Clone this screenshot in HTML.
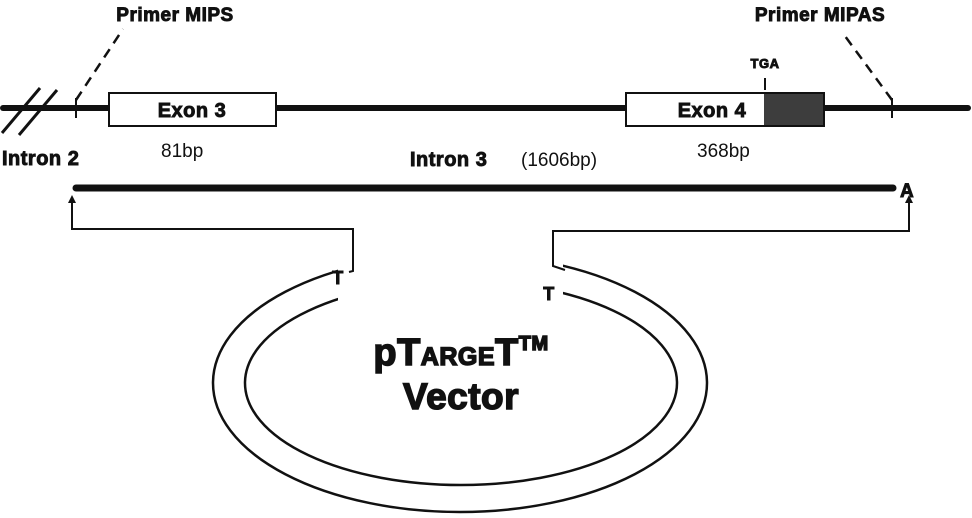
<!DOCTYPE html>
<html><head><style>
html,body{margin:0;padding:0;background:#fff;}
svg{display:block;}
text{font-family:"Liberation Sans",Arial,sans-serif;fill:#111;}
.b{font-weight:bold;stroke:#111;stroke-width:0.9;letter-spacing:0.5px;}
</style></head><body>
<svg width="972" height="518" viewBox="0 0 972 518" xmlns="http://www.w3.org/2000/svg">
<line x1="3" y1="108" x2="968" y2="108" stroke="#111" stroke-width="6" stroke-linecap="round"/>
<line x1="2" y1="133" x2="40" y2="88" stroke="#111" stroke-width="3"/>
<line x1="19" y1="135" x2="57" y2="90" stroke="#111" stroke-width="3"/>
<line x1="76" y1="98" x2="76" y2="118" stroke="#111" stroke-width="2"/>
<line x1="892" y1="98" x2="892" y2="118" stroke="#111" stroke-width="2"/>
<line x1="76" y1="100" x2="123" y2="29" stroke="#111" stroke-width="2.5" stroke-dasharray="10,7"/>
<line x1="892" y1="100" x2="842" y2="32" stroke="#111" stroke-width="2.5" stroke-dasharray="10,7"/>
<text x="175" y="21" font-size="19" text-anchor="middle" class="b">Primer MIPS</text>
<text x="820" y="21" font-size="19" text-anchor="middle" class="b">Primer MIPAS</text>
<rect x="109" y="93" width="167" height="33" fill="#fff" stroke="#111" stroke-width="2"/>
<text x="192" y="117" font-size="20" text-anchor="middle" class="b">Exon 3</text>
<rect x="626" y="93" width="198" height="33" fill="#fff" stroke="#111" stroke-width="2"/>
<rect x="764" y="94" width="59" height="31" fill="#3d3d3d"/>
<text x="712" y="117" font-size="20" text-anchor="middle" class="b">Exon 4</text>
<text x="765" y="68" font-size="13" text-anchor="middle" class="b">TGA</text>
<line x1="765" y1="78" x2="765" y2="90" stroke="#111" stroke-width="2"/>
<text x="2" y="165" font-size="20" class="b">Intron 2</text>
<text x="161" y="157" font-size="19">81bp</text>
<text x="410" y="166" font-size="20" class="b">Intron 3</text>
<text x="521" y="166" font-size="19">(1606bp)</text>
<text x="697" y="157" font-size="19">368bp</text>
<line x1="76" y1="188" x2="893" y2="188" stroke="#111" stroke-width="7" stroke-linecap="round"/>
<text x="900" y="197" font-size="19" class="b">A</text>
<ellipse cx="460" cy="383" rx="247" ry="129" fill="none" stroke="#111" stroke-width="2.5"/>
<ellipse cx="461" cy="383" rx="216" ry="102" fill="none" stroke="#111" stroke-width="2.5"/>
<rect x="338" y="240" width="225" height="61" fill="#fff"/>
<polyline points="72,200 72,229 353,229 353,271 349,272" fill="none" stroke="#111" stroke-width="2"/>
<polygon points="72,195 68,203 76,203" fill="#111"/>
<polyline points="909,200 909,231 553,231 553,266 565,270" fill="none" stroke="#111" stroke-width="2"/>
<polygon points="909,195 905,203 913,203" fill="#111"/>
<text x="338" y="284" font-size="18" text-anchor="middle" class="b">T</text>
<text x="549" y="300" font-size="18" text-anchor="middle" class="b">T</text>
<text x="461" y="365" font-size="38" text-anchor="middle" class="b" style="stroke-width:1.5">p<tspan>T</tspan><tspan font-size="25">ARGE</tspan>T<tspan font-size="20" dy="-15">TM</tspan></text>
<text x="461" y="409" font-size="37" text-anchor="middle" class="b" style="stroke-width:1.5">Vector</text>
</svg>
</body></html>
